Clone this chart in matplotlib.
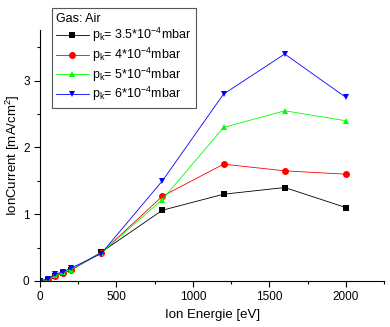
import matplotlib
matplotlib.use("Agg")
import matplotlib.pyplot as plt
from matplotlib.ticker import MultipleLocator

plt.rcParams["font.family"] = ["Liberation Sans", "DejaVu Sans"]
plt.rcParams["mathtext.default"] = "regular"

# ---------------- DATA ----------------
energy = [0, 50, 100, 150, 200, 400, 800, 1200, 1600, 2000]
current_35 = [0.0, 0.02, 0.08, 0.12, 0.16, 0.43, 1.06, 1.30, 1.40, 1.10]
current_4 = [0.0, 0.02, 0.08, 0.12, 0.16, 0.42, 1.27, 1.75, 1.65, 1.60]
current_5 = [0.0, 0.02, 0.09, 0.13, 0.17, 0.42, 1.22, 2.30, 2.55, 2.40]
current_6 = [0.0, 0.03, 0.10, 0.14, 0.19, 0.41, 1.50, 2.80, 3.40, 2.75]

labels = [
    r"p$_k$= 3.5*10$^{-4}$mbar",
    r"p$_k$= 4*10$^{-4}$mbar",
    r"p$_k$= 5*10$^{-4}$mbar",
    r"p$_k$= 6*10$^{-4}$mbar",
]
series = [current_35, current_4, current_5, current_6]
colors = ["#000000", "#ff0000", "#00ff00", "#0000ff"]
markers = ["s", "o", "^", "v"]

# ---------------- PLOT ----------------
fig = plt.figure(figsize=(3.9, 3.27), dpi=100)
ax = fig.add_axes([0.1026, 0.1407, 0.8824, 0.7676])

for vals, c, m, lab in zip(series, colors, markers, labels):
    ax.plot(energy, vals, color=c, marker=m, markersize=5, linewidth=0.6,
            markeredgewidth=0, label=lab)

ax.set_xlim(0, 2250)
ax.set_ylim(0, 3.76)
ax.xaxis.set_major_locator(MultipleLocator(500))
ax.xaxis.set_minor_locator(MultipleLocator(250))
ax.yaxis.set_major_locator(MultipleLocator(1))
ax.yaxis.set_minor_locator(MultipleLocator(0.5))
ax.tick_params(which="major", direction="out", length=4, width=0.8, labelsize=8.5)
ax.tick_params(which="minor", direction="out", length=2.5, width=0.8)
ax.spines["top"].set_visible(False)
ax.spines["right"].set_visible(False)

ax.set_xlabel("Ion Energie [eV]", fontsize=9.5, labelpad=4)
ax.set_ylabel("IonCurrent [mA/cm$^2$]", fontsize=9.5)
ax.yaxis.set_label_coords(-0.052, 0.5)

leg = ax.legend(loc="upper left", bbox_to_anchor=(0.133, 0.975),
                bbox_transform=fig.transFigure, title="Gas: Air",
                fontsize=9, title_fontsize=9, fancybox=False,
                edgecolor="#555555", framealpha=1, borderpad=0.35,
                labelspacing=0.12, handlelength=2.6, handletextpad=0.3,
                borderaxespad=0)
leg._legend_box.align = "left"
leg.get_frame().set_linewidth(0.8)

fig.savefig("out.png", dpi=100)
